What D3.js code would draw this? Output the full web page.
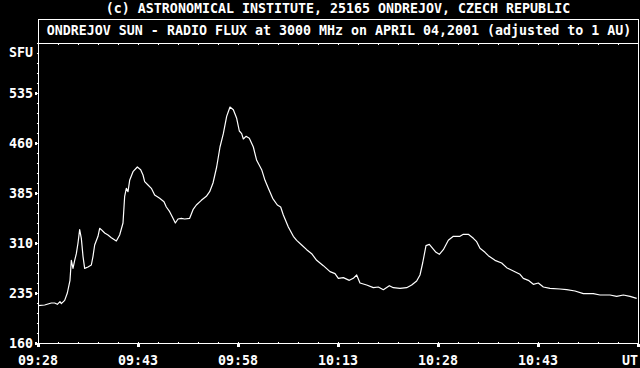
<!DOCTYPE html>
<html>
<head>
<meta charset="utf-8">
<script src="https://cdn.jsdelivr.net/npm/d3@7"></script>
<style>
  html, body { margin: 0; background: #000; }
  svg { display: block; }
  text { font-family: "DejaVu Sans Mono", monospace; font-weight: bold; font-size: 13.3px; fill: #fff; }
</style>
</head>
<body>
<div id="chart"></div>
<script>
// minutes after 09:28 UT
var minutes = [0, 1.0, 2.0, 2.5, 2.9, 3.3, 3.5, 4.0, 4.4, 4.8, 5.0, 5.25, 5.5, 5.75, 6.0, 6.25, 6.5, 6.75, 7.0, 7.5,
  8.0, 8.25, 8.5, 9.0, 9.25, 9.5, 10.0, 10.5, 11.0, 11.75, 12.25, 12.75, 13.0, 13.25, 13.5, 13.75, 14.25, 14.9, 15.4, 15.75,
  16.0, 16.5, 17.0, 17.5, 18.25, 18.9, 19.25, 19.75, 20.25, 20.6, 21.0, 21.5, 22.0, 22.75, 23.25, 23.75, 24.5, 25.25, 25.75, 26.25,
  26.8, 27.3, 27.8, 28.3, 28.8, 29.3, 29.8, 30.2, 30.55, 30.8, 31.2, 31.7, 32.3, 32.8, 33.55, 34.05, 34.55, 35.2, 35.9, 36.4,
  36.8, 37.55, 38.3, 38.8, 39.55, 40.3, 41.05, 41.8, 42.8, 43.8, 44.55, 45.05, 45.8, 46.7, 47.3, 47.8, 48.3, 49.3, 50.3, 51.05,
  51.8, 52.7, 53.3, 54.3, 55.3, 56.05, 56.8, 57.3, 57.7, 58.2, 58.7, 59.2, 59.7, 60.2, 60.8, 61.55, 62.3, 63.3, 63.8, 64.55,
  65.3, 65.8, 66.3, 67.05, 67.55, 68.55, 69.55, 70.3, 71.3, 72.3, 72.8, 73.55, 74.3, 75.05, 75.8, 76.8, 78.3, 79.3, 80.55, 81.8,
  83.3, 84.3, 85.8, 86.8, 87.8, 88.8, 89.8];
// radio flux, SFU
var flux = [216, 217, 220, 220, 218, 222, 219, 224, 235, 254, 284, 272, 284, 294, 310, 330, 317, 290, 272, 274,
  277, 290, 307, 320, 332, 330, 325, 322, 318, 313, 322, 340, 380, 392, 387, 404, 417, 424, 420, 412,
  402, 397, 392, 382, 377, 372, 364, 357, 347, 340, 346, 347, 346, 347, 360, 367, 374, 380, 387, 400,
  424, 454, 474, 500, 514, 510, 497, 478, 474, 466, 470, 467, 454, 434, 420, 404, 392, 377, 367, 364,
  352, 334, 320, 314, 307, 300, 294, 284, 276, 267, 264, 257, 258, 254, 257, 262, 250, 247, 243, 244,
  240, 246, 243, 242, 243, 247, 253, 262, 280, 306, 308, 302, 296, 293, 300, 314, 320, 320, 323, 323,
  317, 312, 302, 296, 291, 284, 280, 273, 268, 263, 257, 254, 248, 250, 244, 242, 241, 240, 238, 234,
  234, 232, 232, 230, 232, 230, 227];

var yTicks = [160, 235, 310, 385, 460, 535];
var xTicks = [0, 15, 30, 45, 60, 75, 90];
var xTickLabels = ["09:28", "09:43", "09:58", "10:13", "10:28", "10:43", "UT"];
var credit = "(c) ASTRONOMICAL INSTITUTE, 25165 ONDREJOV, CZECH REPUBLIC";
var title = "ONDREJOV SUN - RADIO FLUX at 3000 MHz on APRIL 04,2001 (adjusted to 1 AU)";
var unit = "SFU";

var width = 640, height = 368;
var plotLeft = 38, plotRight = 638, plotTop = 43, plotBottom = 343;

var svg = d3.select("#chart").append("svg")
    .attr("width", width)
    .attr("height", height)
    .style("background", "#000");

var x = d3.scaleLinear().domain([0, 90]).range([plotLeft, plotRight]);
var y = d3.scaleLinear().domain([160, 610]).range([plotBottom, plotTop]);

var frame = svg.append("g")
    .attr("shape-rendering", "crispEdges")
    .attr("stroke", "#fff")
    .attr("fill", "none");

// title box
frame.append("rect")
    .attr("x", plotLeft + 0.5).attr("y", 19.5)
    .attr("width", plotRight - plotLeft).attr("height", plotTop - 19);

// axes lines
frame.append("line").attr("x1", plotLeft + 0.5).attr("x2", plotLeft + 0.5).attr("y1", plotTop).attr("y2", plotBottom + 1);
frame.append("line").attr("x1", plotRight + 0.5).attr("x2", plotRight + 0.5).attr("y1", plotTop).attr("y2", plotBottom + 1);
frame.append("line").attr("x1", plotLeft).attr("x2", plotRight + 1).attr("y1", plotBottom + 0.5).attr("y2", plotBottom + 0.5);

// minor ticks
var yMinor = d3.range(160, 611, 15);
frame.selectAll(".ym").data(yMinor).join("line")
    .attr("x1", plotLeft - 1).attr("x2", plotLeft)
    .attr("y1", d => Math.round(y(d)) + 0.5).attr("y2", d => Math.round(y(d)) + 0.5);

var xMinor = d3.range(3, 90, 3);
frame.selectAll(".xm").data(xMinor).join("line")
    .attr("x1", d => Math.round(x(d)) + 0.5).attr("x2", d => Math.round(x(d)) + 0.5)
    .attr("y1", plotBottom - 1).attr("y2", plotBottom);
frame.selectAll(".tm").data(xMinor).join("line")
    .attr("x1", d => Math.round(x(d)) + 0.5).attr("x2", d => Math.round(x(d)) + 0.5)
    .attr("y1", plotTop + 1).attr("y2", plotTop + 2);

// major ticks (small squares)
svg.selectAll(".yM").data(yTicks).join("rect")
    .attr("x", plotLeft - 3).attr("y", d => Math.round(y(d)) - 1)
    .attr("width", 2).attr("height", 3)
    .attr("fill", "#fff");
svg.selectAll(".xM").data(xTicks).join("rect")
    .attr("x", d => Math.round(x(d)) - 1).attr("y", plotBottom + 1)
    .attr("width", 3).attr("height", 3)
    .attr("fill", "#fff");

// labels
svg.append("text").attr("x", 338).attr("y", 13).attr("text-anchor", "middle").text(credit);
svg.append("text").attr("x", 339).attr("y", 35).attr("text-anchor", "middle").text(title);
svg.append("text").attr("x", 33).attr("y", 57).attr("text-anchor", "end").text(unit);

svg.selectAll(".yl").data(yTicks).join("text")
    .attr("x", 33).attr("y", d => y(d) + 5)
    .attr("text-anchor", "end")
    .text(d => d);

svg.selectAll(".xl").data(xTicks).join("text")
    .attr("x", (d, i) => i === xTicks.length - 1 ? plotRight : x(d))
    .attr("y", 365)
    .attr("text-anchor", (d, i) => i === xTicks.length - 1 ? "end" : "middle")
    .text((d, i) => xTickLabels[i]);

// flux curve
var line = d3.line()
    .x((d, i) => x(minutes[i]))
    .y(d => y(d));

svg.append("path")
    .datum(flux)
    .attr("d", line)
    .attr("fill", "none")
    .attr("stroke", "#fff")
    .attr("stroke-width", 1.2)
    .attr("stroke-linejoin", "round");
</script>
</body>
</html>
